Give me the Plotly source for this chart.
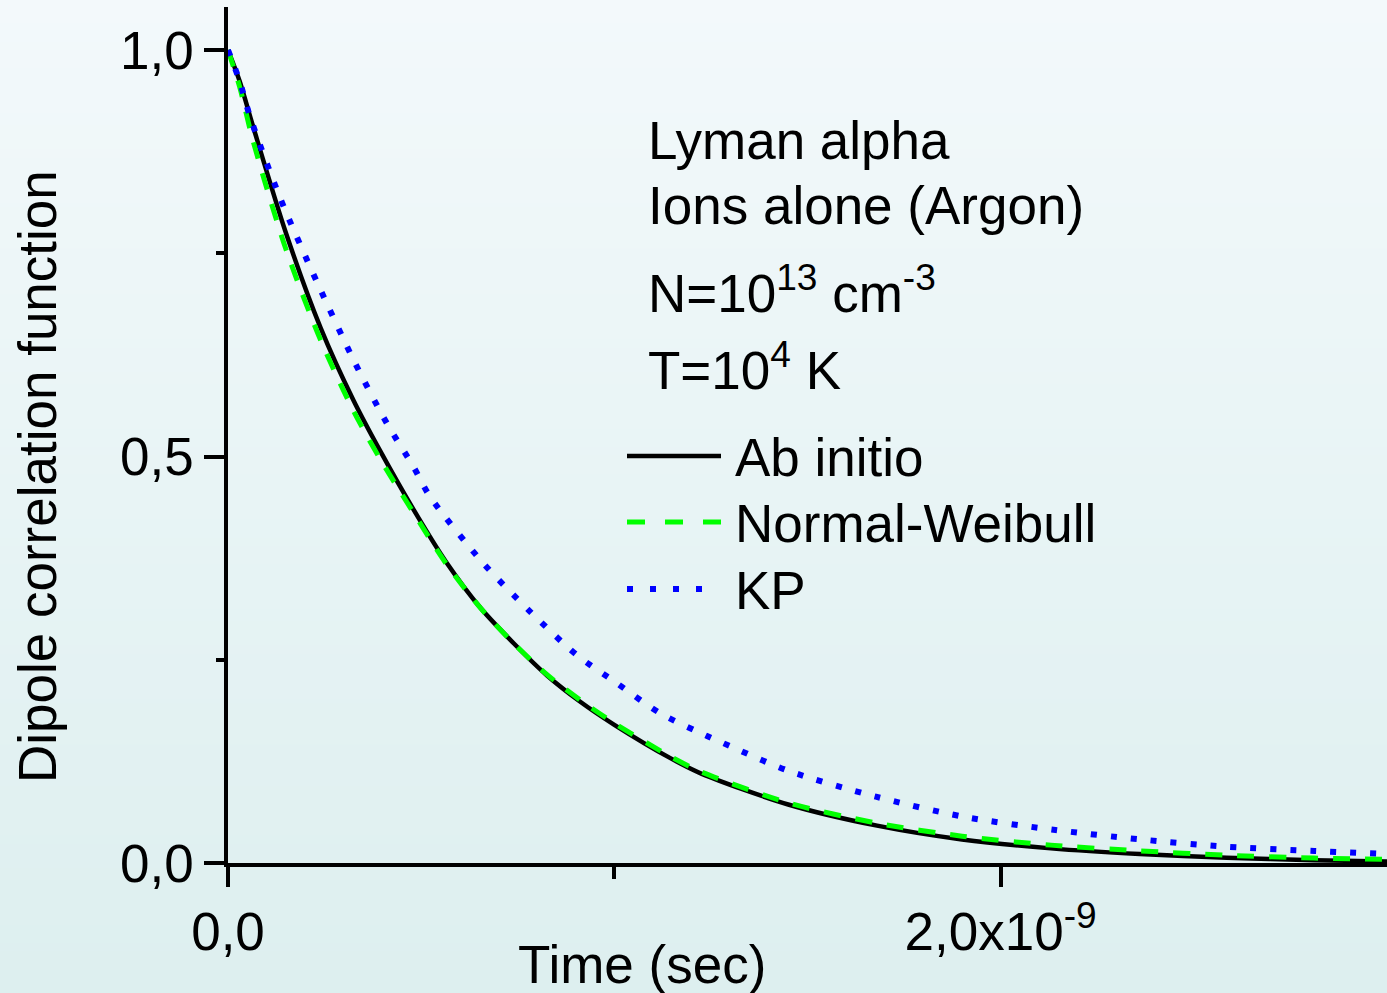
import base64
import struct
import zlib

import plotly.graph_objects as go

# ---- data (time in units of 1e-9 s) ----
t_ab = [0, 0.03, 0.065, 0.15, 0.24, 0.325, 0.395, 0.48, 0.565, 0.655, 0.74, 0.825,
        0.91, 1.0, 1.145, 1.225, 1.45, 1.68, 1.9, 2.13, 2.36, 2.585, 2.81, 3.0]
ab_initio = [1.0, 0.962, 0.906, 0.775, 0.658, 0.569, 0.506, 0.435, 0.370, 0.313, 0.270, 0.231,
             0.199, 0.170, 0.129, 0.110, 0.072, 0.046, 0.029, 0.018, 0.011, 0.0065, 0.0035, 0.0018]
normal_weibull = [1.0, 0.955, 0.888, 0.755, 0.643, 0.556, 0.496, 0.431, 0.368, 0.313, 0.270, 0.232,
                  0.201, 0.172, 0.131, 0.112, 0.074, 0.049, 0.033, 0.022, 0.015, 0.0095, 0.006, 0.0045]

t_kp = [0, 0.03, 0.057, 0.135, 0.23, 0.329, 0.411, 0.48, 0.523, 0.661, 0.778, 0.903,
        1.007, 1.119, 1.24, 1.283, 1.45, 1.677, 1.904, 2.142, 2.358, 2.585, 2.812, 3.0]
kp = [1.0, 0.962, 0.918, 0.818, 0.715, 0.615, 0.541, 0.4875, 0.4506, 0.3686, 0.3112, 0.2558,
      0.221, 0.1841, 0.1562, 0.1472, 0.1135, 0.0816, 0.0569, 0.0406, 0.0292, 0.0200, 0.0148, 0.011]

x_tickvals = [0, 2.0e-9]
x_ticktext = ["0,0", "2,0x10<sup>-9</sup>"]
y_tickvals = [0, 0.5, 1.0]
y_ticktext = ["0,0", "0,5", "1,0"]

series_names = ["Ab initio", "Normal-Weibull", "KP"]
info_lines = ["Lyman alpha", "Ions alone (Argon)",
              "N=10<sup>13</sup> cm<sup>-3</sup>", "T=10<sup>4</sup> K"]

# ---- geometry ----
W, H = 1387, 993
ML, MR, MT, MB = 228, 0, 7, 130
PW, PH = W - ML - MR, H - MT - MB
FONT = "Liberation Sans, Arial, sans-serif"
FS = 53


def px(xp):
    return (xp - ML) / PW


def py(yp):
    return (H - MB - yp) / PH


def gradient_png(height, top, bottom):
    rows = b""
    for i in range(height):
        f = i / (height - 1)
        c = bytes(int(round(top[k] + (bottom[k] - top[k]) * f)) for k in range(3))
        rows += b"\x00" + c
    def chunk(tag, data):
        return struct.pack(">I", len(data)) + tag + data + struct.pack(">I", zlib.crc32(tag + data) & 0xffffffff)
    png = b"\x89PNG\r\n\x1a\n"
    png += chunk(b"IHDR", struct.pack(">IIBBBBB", 1, height, 8, 2, 0, 0, 0))
    png += chunk(b"IDAT", zlib.compress(rows))
    png += chunk(b"IEND", b"")
    return "data:image/png;base64," + base64.b64encode(png).decode()


scale = 1e-9
fig = go.Figure()
fig.add_trace(go.Scatter(x=[v * scale for v in t_ab], y=ab_initio, mode="lines",
                         name=series_names[0], line=dict(color="black", width=4.5, shape="spline", smoothing=0.8)))
fig.add_trace(go.Scatter(x=[v * scale for v in t_ab], y=normal_weibull, mode="lines",
                         name=series_names[1], line=dict(color="#00ff00", width=5, dash="17px,15px",
                                                         shape="spline", smoothing=0.8)))
fig.add_trace(go.Scatter(x=[v * scale for v in t_kp], y=kp, mode="lines",
                         name=series_names[2], line=dict(color="#0000ff", width=6, dash="6px,14px",
                                                         shape="spline", smoothing=0.8)))

annotations = []
# info block
baselines = [160, 225, 313, 390]
for txt, bl in zip(info_lines, baselines):
    annotations.append(dict(text=txt, xref="paper", yref="paper", x=px(646), y=py(bl + 12),
                            xanchor="left", yanchor="bottom", showarrow=False,
                            font=dict(family=FONT, size=FS, color="black")))

# legend
legend_rows = [456, 522, 589]
legend_ends = [721, 721, 703]
styles = [dict(color="black", width=4.5, dash="solid"),
          dict(color="#00ff00", width=5, dash="18px,20px"),
          dict(color="#0000ff", width=6, dash="6px,17px")]
shapes = []
for name, yrow, xend, st in zip(series_names, legend_rows, legend_ends, styles):
    shapes.append(dict(type="line", xref="paper", yref="paper", x0=px(627), x1=px(xend),
                       y0=py(yrow), y1=py(yrow), line=st))
    annotations.append(dict(text=name, xref="paper", yref="paper", x=px(733), y=py(yrow + 1),
                            xanchor="left", yanchor="middle", showarrow=False,
                            font=dict(family=FONT, size=FS, color="black")))

# axis titles
annotations.append(dict(text="Time (sec)", xref="paper", yref="paper", x=px(642), y=py(964),
                        xanchor="center", yanchor="middle", showarrow=False,
                        font=dict(family=FONT, size=FS, color="black")))
annotations.append(dict(text="Dipole correlation function", xref="paper", yref="paper",
                        x=px(37), y=py(477), textangle=-90, xanchor="center", yanchor="middle",
                        showarrow=False, font=dict(family=FONT, size=FS, color="black")))

fig.update_layout(
    width=W, height=H,
    margin=dict(l=ML, r=MR, t=MT, b=MB, autoexpand=False),
    paper_bgcolor="#e8f4f5",
    plot_bgcolor="rgba(0,0,0,0)",
    showlegend=False,
    font=dict(family=FONT, size=FS, color="black"),
    annotations=annotations,
    shapes=shapes,
    images=[dict(source=gradient_png(H, (243, 249, 251), (221, 239, 239)),
                 xref="paper", yref="paper", x=px(0), y=py(0),
                 sizex=W / PW, sizey=H / PH, sizing="stretch",
                 xanchor="left", yanchor="top", layer="below")],
)

fig.update_xaxes(
    range=[0, 3.0e-9], showline=True, linecolor="black", linewidth=3.5,
    showgrid=False, zeroline=False, automargin=False,
    tickmode="array", tickvals=x_tickvals, ticktext=x_ticktext,
    ticks="outside", ticklen=20, tickwidth=3.5, tickcolor="black",
    tickfont=dict(family=FONT, size=FS, color="black"),
    minor=dict(tickmode="array", tickvals=[1.0e-9], ticks="outside", ticklen=12,
               tickwidth=3.5, tickcolor="black"),
)
fig.update_yaxes(
    range=[0, 1.053], showline=True, linecolor="black", linewidth=3.5,
    showgrid=False, zeroline=False, automargin=False,
    tickmode="array", tickvals=y_tickvals, ticktext=y_ticktext,
    ticks="outside", ticklen=20, tickwidth=3.5, tickcolor="black",
    tickfont=dict(family=FONT, size=FS, color="black"),
    minor=dict(tickmode="array", tickvals=[0.25, 0.75], ticks="outside", ticklen=8,
               tickwidth=3.5, tickcolor="black"),
)

fig.write_html("out.html")
